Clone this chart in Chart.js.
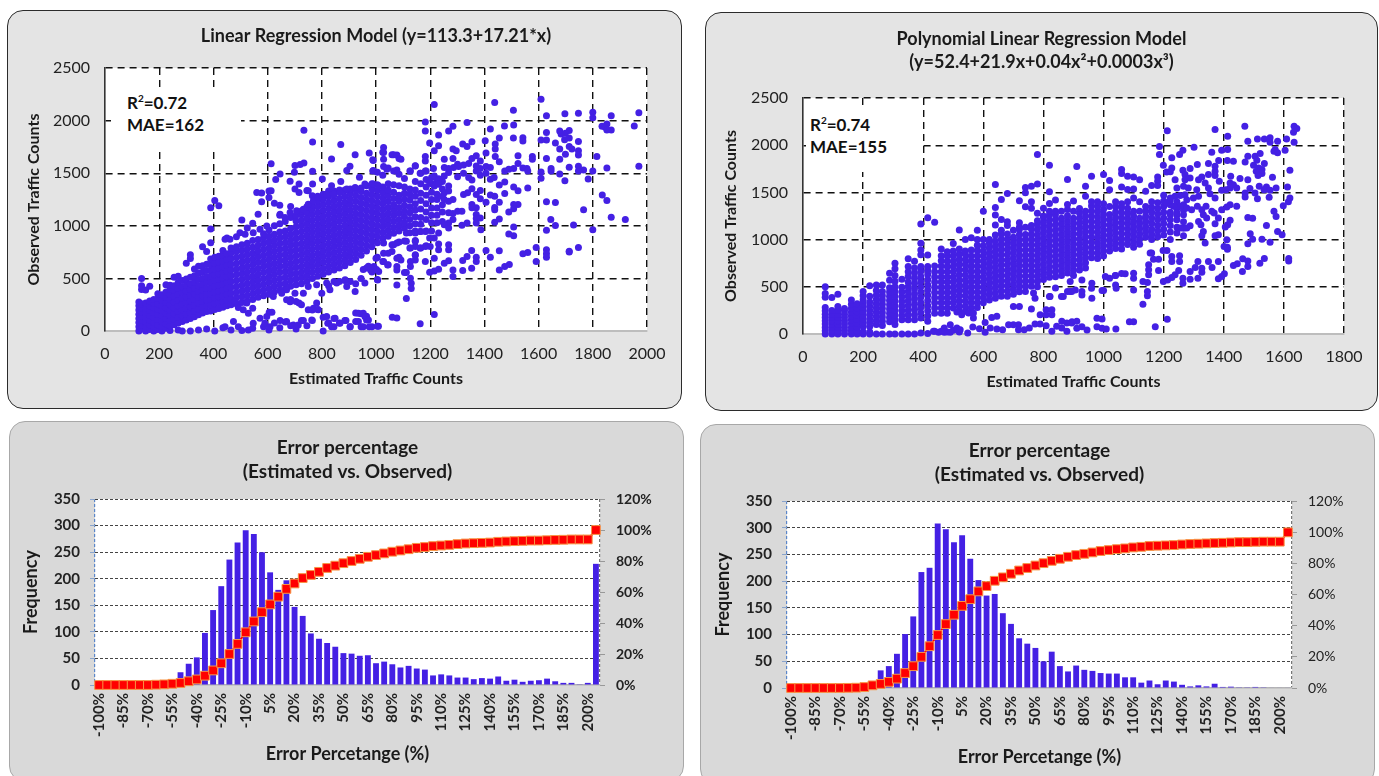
<!DOCTYPE html>
<html><head><meta charset="utf-8">
<script src="https://cdn.jsdelivr.net/npm/chart.js@4"></script>
<style>
html,body{margin:0;padding:0;background:#fff;width:1379px;height:776px;overflow:hidden;font-family:Lato,sans-serif}
.panel{position:absolute;box-sizing:border-box}
.top{background:#e4e4e4;border:1.5px solid #2b2b2b;border-radius:16px}
.bot{background:#d9d9d9;border:1px solid #a8a8a8;border-radius:16px}
canvas{position:absolute;display:block}
.note{position:absolute;background:#fff;font:bold 17px/22px Lato,sans-serif;color:#111;box-sizing:border-box}
.note sup{font-size:10px;line-height:0}
</style></head><body>
<div class="panel top" style="left:7px;top:10px;width:675px;height:399px"></div>
<div class="panel top" style="left:705px;top:12px;width:673px;height:399px"></div>
<div class="panel bot" style="left:9px;top:421px;width:675px;height:361px"></div>
<div class="panel bot" style="left:700px;top:424px;width:675px;height:361px"></div>
<canvas id="a" width="675" height="399" style="left:7px;top:10px"></canvas>
<canvas id="b" width="673" height="399" style="left:705px;top:12px"></canvas>
<canvas id="c" width="675" height="361" style="left:9px;top:421px"></canvas>
<canvas id="d" width="675" height="361" style="left:700px;top:424px"></canvas>
<div class="note" style="left:111px;top:88px;width:130px;height:59px;padding:4px 0 0 16px">R<sup>2</sup>=0.72<br>MAE=162</div>
<div class="note" style="left:806px;top:108px;width:116px;height:64px;padding:6px 0 0 4px">R<sup>2</sup>=0.74<br>MAE=155</div>
<script>
const binLabels=['-100%','-95%','-90%','-85%','-80%','-75%','-70%','-65%','-60%','-55%','-50%','-45%','-40%','-35%','-30%','-25%','-20%','-15%','-10%','-5%','0%','5%','10%','15%','20%','25%','30%','35%','40%','45%','50%','55%','60%','65%','70%','75%','80%','85%','90%','95%','100%','105%','110%','115%','120%','125%','130%','135%','140%','145%','150%','155%','160%','165%','170%','175%','180%','185%','190%','195%','200%','More'];
const freqLinear=[0,0,0,0,0,0,0,0,0,0,24,40,52,98,141,186,236,268,291,284,250,212,179,197,147,130,97,87,79,72,60,59,55,56,41,44,39,33,36,31,29,18,20,18,14,14,11,13,12,16,8,10,6,8,9,12,7,4,4,0.5,4,228];
const cumLinear=[0,0,0,0,0,0,0,0.2,0.4,0.8,1.3,2.4,3.6,6,9.4,14,20,26.5,34,41,47,52,57,62,65.5,69,71,73,75.5,77,78.6,80,81.4,82.7,83.8,84.9,86,86.8,87.6,88.5,89,89.6,90,90.4,90.9,91.3,91.5,91.7,91.9,92.4,92.6,92.8,93,93.2,93.2,93.4,93.6,93.7,93.9,93.9,93.9,100];
const freqPoly=[0,0,0,0,0,0,0,0,0,0,0,33,41,64,101,134,217,225,308,297,273,286,242,202,173,176,140,120,93,83,75,50,68,41,31,42,34,32,28,27,27,20,20,10,14,7,14,12,6,3,5,3,8,2,2.5,0.5,0.5,2,0.5,1,1,1];
const cumPoly=[0,0,0,0,0,0,0,0.1,0.2,0.6,1.7,2.6,3.9,6,9.6,14,20,26.8,34,41,47,52.7,57,62,65.4,68.8,71,73.3,75.4,77,78.6,80.1,81.6,82.9,84.2,85.3,86.1,87,87.9,88.5,89.1,89.6,90.2,90.6,91.1,91.3,91.5,91.7,92.1,92.4,92.6,92.8,93,93.2,93.4,93.6,93.6,93.8,93.9,93.9,93.9,99.9];

const linearColumns=[
[125,[0,40,80,120,160,200,240,275]],[135,[20,60,100,140,180,220,260,395,430,498]],[150,[0,40,85,130,175,220,265,390]],
[165,[15,60,105,150,195,240,285,425]],[180,[0,40,85,130,175,220,265,300]],[195,[15,60,110,160,210,260,310,355]],
[210,[0,45,95,145,195,245,295,345]],[225,[25,70,120,170,220,270,320,370,440]],[240,[5,50,100,150,200,250,300,350,400,435]],
[255,[60,110,165,220,275,330,385,430,510]],[270,[10,75,130,185,240,295,350,405,460,520]],[285,[0,90,145,200,255,310,365,420,480]],
[300,[105,160,215,270,325,380,435,495,645]],[315,[0,120,175,230,285,340,395,450,510,690,725]],[330,[135,190,245,300,355,410,465,525,590]],
[345,[10,155,210,265,320,375,430,490,550,615]],[360,[170,225,280,335,390,445,500,560,620,800]],[375,[20,185,240,295,350,405,460,515,575,635,755]],
[390,[190,245,300,355,410,465,520,575,630,685,840,970,1172]],[405,[0,205,260,315,370,425,480,535,590,645,700,1240]],[420,[215,270,325,380,435,490,545,600,655,710,1190]],
[435,[30,225,280,335,390,445,500,555,610,665,720,765]],[450,[240,295,350,405,460,515,570,625,680,735,885]],[465,[10,250,305,360,415,470,525,580,635,690,745,790]],
[485,[260,315,370,425,480,535,590,645,700,755,800,895]],[505,[5,270,325,380,435,490,545,600,655,710,765,820,1055]],[525,[285,340,395,450,505,560,615,670,725,780,835,980]],
[545,[25,300,355,410,465,520,575,630,685,740,795,860,1025]],[565,[320,375,430,485,540,595,650,705,760,815,870,1110]],[585,[40,335,390,445,500,555,610,665,720,775,830,885,925]],
[605,[10,350,405,460,515,570,625,680,735,790,845,900,960,1270,1330]],[625,[75,370,425,480,535,590,645,700,755,810,865,920,1000,1215]],[645,[30,390,445,500,555,610,665,720,775,830,885,940,1020,1100,1196]],
[665,[85,400,455,510,565,620,675,730,785,840,895,950,1040]],[685,[50,300,425,480,535,590,645,700,755,810,865,920,975,1080,1183]],[705,[20,280,440,495,550,605,660,715,770,825,880,935,990,1045,1100]],
[725,[100,250,450,505,560,615,670,725,780,835,890,945,1000,1055,1110,1140]],[745,[50,470,525,580,635,690,745,800,855,910,965,1020,1075,1130,1180,1335]],[765,[100,200,500,555,610,665,720,775,830,885,940,995,1050,1105,1160,1200,1285]],
[785,[205,520,575,630,685,740,795,850,905,960,1015,1070,1125,1180,1235,1280]],[805,[0,130,540,595,650,705,760,815,870,925,980,1035,1090,1145,1200,1255,1300]],[825,[75,430,560,615,670,725,780,835,890,945,1000,1055,1110,1165,1220,1275,1330]],
[845,[40,120,470,580,635,690,745,800,855,910,965,1020,1075,1130,1185,1240,1295,1330]],[865,[75,470,600,655,710,765,820,875,930,985,1040,1095,1150,1205,1260,1340]],[885,[100,480,620,675,730,785,840,895,950,1005,1060,1115,1170,1225,1280,1340]],
[905,[40,470,650,705,760,815,870,925,980,1035,1090,1145,1200,1255,1310,1350]],[925,[170,90,450,680,735,790,845,900,955,1010,1065,1120,1175,1230,1285,1340]],[945,[165,40,500,720,775,830,885,940,995,1050,1105,1160,1215,1270,1325,1360]],
[965,[105,140,600,760,815,870,925,980,1035,1090,1145,1200,1255,1310,1380]],[985,[40,560,800,855,910,965,1020,1075,1130,1185,1240,1295,1350,1400]],[1005,[45,490,700,840,895,950,1005,1060,1115,1170,1225,1280,1335,1390,1510]],
[1025,[660,880,935,990,1045,1100,1155,1210,1265,1320,1370,1480,1700]],[1045,[630,740,900,955,1010,1065,1120,1175,1230,1285,1340,1400,1550]],[1065,[820,930,985,1040,1095,1150,1200,1260,1320,1390,1520,1675]],
[1085,[700,845,950,1005,1060,1120,1175,1235,1290,1380,1490,1640]],[1105,[555,855,980,1030,1085,1140,1195,1255,1310,1370,1450]],[1125,[790,935,1000,1060,1125,1180,1245,1300,1350,1520]],
[1145,[720,860,950,1020,1085,1150,1210,1280,1340,1420,1570]],[1165,[790,945,1015,1080,1160,1240,1310,1400,1500]],[1185,[810,950,1060,1130,1210,1290,1370,1440,1520]],
[1205,[950,1030,1100,1170,1250,1320,1400,1460]],[1225,[1030,1100,1170,1250,1300,1430]],[1245,[1040,1130,1200,1280,1350,1420]]];
const linearLoose=[[1215,2153],[1438,2172],[1507,2099],[1609,2204],[1629,2045],[1697,2064],[1747,2070],[1800,2080],[1800,2026],[1868,2045],[1970,2074],[1182,1987],[1182,1901],[1231,1863],[1268,1901],[1284,1946],[1336,1981],[1422,1920],[1455,1834],[1474,1949],[1508,1959],[1507,1834],[1542,1837],[1542,1805],[1629,1888],[1629,1815],[1609,1815],[1662,1786],[1678,1901],[1683,1872],[1699,1879],[1713,1907],[1696,1818],[1713,1834],[1747,1802],[1678,1729],[1713,1754],[1723,1729],[1747,1713],[1747,1672],[1699,1681],[1678,1633],[1629,1640],[1577,1659],[1577,1633],[1524,1665],[1524,1592],[1815,1659],[1834,1946],[1852,1968],[1846,1936],[1868,1911],[1852,1911],[1953,1949],[1970,1566],[1852,1550],[1800,1522],[1766,1531],[1747,1566],[1747,1522],[1713,1557],[1646,1544],[1646,1522],[1609,1512],[1609,1451],[1678,1493],[1697,1429],[1783,1445],[1557,1544],[1542,1550],[1560,1522],[1508,1544],[1490,1538],[1475,1522],[1835,1292],[1852,1241],[1766,1152],[1629,1228],[1662,1222],[1560,1359],[1524,1333],[1508,1368],[1475,1308],[1475,1416],[1455,1388],[1438,1282],[1422,1292],[1406,1225],[1455,1225],[1438,1174],[1438,1152],[1524,1203],[1508,1203],[1508,1161],[1490,1132],[1455,1065],[1438,1034],[1868,1081],[1920,1059],[1645,1059],[1662,1002],[1729,1008],[1800,963],[1629,957],[1508,989],[1490,922],[1508,906],[1387,963],[1713,750],[1713,759],[1747,794],[1591,794],[1629,772],[1629,734],[1629,702],[1591,660],[1560,746],[1542,734],[1455,762],[1422,702],[1406,766],[1353,766],[1370,702],[1370,660],[1353,597],[1320,574],[1320,670],[1336,708],[1268,667],[1252,644],[1231,587],[1215,571],[1198,558],[1284,581],[1284,517],[1268,820],[1268,772],[1231,826],[1231,772],[1215,692],[1182,660],[1455,581],[1475,612],[1492,632],[1215,156],[1163,70],[1077,124],[1060,131],[1009,45],[1112,309],
[1403,1809],[1440,1777],[1440,1729],[1440,1659],[1406,1691],[1385,1617],[1455,1608],[1354,1799],[1336,1754],[1320,1777],[1284,1729],[1296,1713],[1231,1761],[1215,1713],[1198,1786],[1182,1659],[1182,1617],[1252,1633],[1284,1640],[1301,1585],[1354,1640],[1370,1665],[1212,1544],[1252,1553],[1268,1544],[1286,1553],[1305,1563],[1323,1579],[1342,1592],[1370,1522],[1385,1544],[1406,1563],[1422,1553],[1370,1569],[1252,1474],[1268,1506],[1301,1467],[1323,1499],[1342,1458],[1354,1435],[1385,1480],[1406,1499],[1422,1442],[1436,1458],[1215,1474],[1231,1448],[1198,1410],[1215,1378],[1231,1394],[1268,1378],[1252,1314],[1268,1330],[1284,1250],[1268,1234],[1252,1250],[1323,1298],[1338,1314],[1354,1352],[1370,1298],[1385,1336],[1385,1257],[1354,1203],[1370,1171],[1354,1171],[1317,1139],[1301,1139],[1284,1117],[1268,1123],[1284,1059],[1268,1027],[1252,1011],[1268,979],[1317,1005],[1336,1027],[1370,1107],[1370,1069],[1370,1027],[1385,1075],[1231,931],[1215,884],[1198,884],[1200,804],[1182,804],[1163,788],[1145,804],[1127,788],[1145,852],[1112,852],[1145,931],[1163,947],[1182,947],[1112,931],[1077,836],[1059,820],[1028,836],[1145,724],[1145,676],[1127,660],[1127,612],[1112,555],[1127,501],[1130,453],[1130,405],[1077,581],[1077,612],[1077,437],[1043,628],[1092,676],[1077,692],[1059,756],[1028,740],[1000,692],[980,580],[1006,485],[992,612],[1010,565],[1028,660],[1028,1745],[1028,1697],[1028,1633],[1059,1675],[1077,1672],[1092,1633],[988,1627],[1028,1563],[1040,1538],[988,1522],[1077,1531],[1127,1522],[1145,1569],[1163,1499],[1182,1522],[766,1796],[734,1908],[870,1774],[836,1636],[892,1525],[904,1566],[923,1675],[975,1691],[990,1620],[990,1525],[939,1461],[870,1420],[836,1381],[818,1301],[701,1573],[720,1582],[734,1598],[699,1509],[701,1349],[716,1397],[716,1317],[683,1423],[630,1439],[646,1493],[613,1589],[613,1333],[560,1317],[578,1311],[578,1228],[766,1518],[766,1397],[750,1333],[802,1445],[670,297],[683,278],[716,265],[781,265],[769,217],[750,201],[787,201],[606,179],[616,179],[597,137],[545,217],[529,169],[510,201],[492,223],[523,265],[480,281],[572,121],[474,90],[443,41],[492,41],[529,10],[547,73],[590,73],[609,41],[646,99],[670,90],[695,57],[713,57],[732,99],[763,105],[818,137],[822,73],[836,41],[849,121],[867,73],[889,99],[904,41],[935,169],[953,169],[959,137],[972,105],[935,90],[953,41],[975,41],
[443,871],[461,871],[498,935],[517,919],[547,935],[572,967],[597,998],[646,1110],[664,1078],[683,1126],[707,1142],[732,1158],[750,1206],[769,1238],[787,1270],[843,1301],[867,1317],[892,1349],[923,1365],[959,1397],[990,1397],[1009,1381],[732,360],[750,424],[781,440],[800,360],[830,392],[855,456],[892,424],[923,376],[959,456],[886,488],[818,456],[670,392],[701,360],[621,329],[652,360],[953,584],[972,616],[1002,584]];

const polyColumns=[
[74,[0,35,70,105,140,175,210,245,280,390,430,500]],[96,[0,35,70,105,140,175,210,250,387]],[116,[0,35,70,105,140,175,210,250,290,420]],
[138,[0,35,70,105,140,175,210,245,270]],[161,[0,35,70,110,150,190,230,270,315,360]],[180,[0,35,75,115,155,195,235,275,320]],
[200,[0,25,80,120,160,200,240,280,320,360,405,450]],[222,[0,20,80,120,160,205,250,295,340,400,510]],[244,[0,100,140,185,230,275,320,365,410,460,520]],
[264,[0,90,135,180,225,270,315,360,405,450,520]],[288,[0,130,175,220,265,310,355,400,445,490,570,644]],[306,[0,100,150,200,250,300,350,400,450,500,560,620,690,750]],
[329,[0,150,195,245,295,345,395,445,495,580]],[350,[0,150,200,250,300,350,400,450,500,550,610,660,715,796]],[371,[0,150,205,260,315,370,425,480,535,590,645,700,770]],
[392,[10,170,225,280,335,390,445,500,555,610,665,715,840,890,961,1165]],[415,[5,134,190,245,300,355,410,465,520,575,630,675,715,838,1232]],[438,[30,220,275,330,385,440,495,550,605,660,720,1183]],
[460,[30,220,275,330,385,440,495,550,605,660,720,775,830,900]],[480,[20,220,275,330,385,440,495,550,605,660,715,770,825,870]],[500,[40,275,330,385,440,495,550,605,660,715,770,825,880,960]],
[520,[20,240,295,350,405,460,515,570,625,680,735,790,845,900,1102]],[540,[240,295,350,405,460,515,570,625,680,735,790,845,880,1000]],[560,[275,330,385,440,495,550,605,660,715,770,825,890,1020]],
[580,[280,335,390,445,500,555,610,665,720,775,830,885,940,1000,1100]],[600,[330,385,440,495,550,605,660,715,770,825,880,935,1000,1300]],[620,[360,415,470,525,580,635,690,745,800,855,910,965,1000]],
[640,[380,435,490,545,600,655,710,765,820,875,930,985,1050,1155,1260,1341,1584]],[660,[400,455,510,565,620,675,730,785,840,895,950,1005,1060,1100,1214,1426]],[680,[400,455,510,565,620,675,730,785,840,895,950,1005,1060,1150,1190,1489]],
[700,[292,420,475,530,585,640,695,750,805,860,915,970,1025,1100]],[720,[292,447,502,557,612,667,722,777,832,887,942,997,1052,1107,1130,1179,1412]],[740,[450,505,560,615,670,725,780,835,890,945,1000,1055,1130,1348,1496,1552]],
[760,[264,507,562,617,672,727,782,837,892,947,1002,1057,1112,1150,1331,1401,1566]],[780,[500,555,610,665,720,775,830,885,940,995,1050,1105,1160,1200,1278,1588,1901]],[800,[577,632,687,742,797,852,907,962,1017,1072,1127,1182,1237,1250,1331]],
[820,[398,600,655,710,765,820,875,930,985,1040,1095,1150,1205,1260,1300,1383,1507,1788]],[840,[486,607,662,717,772,827,882,937,992,1047,1102,1157,1212,1267,1300,1419]],[860,[398,620,675,730,785,840,895,950,1005,1060,1115,1170,1225,1300]],
[880,[451,647,702,757,812,867,922,977,1032,1087,1142,1197,1252,1320,1373,1637]],[900,[620,675,730,785,840,895,950,1005,1060,1115,1170,1225,1300,1408]],[920,[677,732,787,842,897,952,1007,1062,1117,1172,1227,1282,1330]],
[940,[700,755,810,865,920,975,1030,1085,1140,1195,1250,1300,1460,1565]],[960,[485,807,862,917,972,1027,1082,1137,1192,1247,1302,1357,1400,1671]],[980,[800,855,910,965,1020,1075,1130,1185,1240,1295,1350,1400]],
[1000,[460,827,882,937,992,1047,1102,1157,1212,1267,1322,1380,1689]],[1020,[590,880,935,990,1045,1100,1155,1210,1265,1350,1529,1625]],[1040,[520,620,907,962,1017,1072,1127,1182,1237,1292,1347,1400]],
[1060,[640,900,955,1010,1065,1120,1175,1230,1285,1340,1380,1558,1699,1742]],[1080,[947,1002,1057,1112,1167,1222,1277,1332,1400,1530,1671]],[1100,[467,591,644,920,975,1030,1085,1140,1195,1250,1300,1440,1536,1664]],
[1120,[950,1005,1060,1115,1170,1225,1300,1400,1635]],[1140,[1027,1082,1137,1192,1247,1302,1350,1512]],[1160,[857,1000,1055,1110,1170,1230,1290,1340,1400,1572]],[1180,[1030,1090,1150,1210,1270,1330,1390,1664,1618,1572]],
[1200,[1050,1110,1170,1230,1290,1350,1410,1470]],[1222,[1000,1080,1150,1210,1290,1370,1420]],[1244,[1070,1130,1210,1260,1330,1400]],[1266,[1040,1120,1190,1310,1370]]];
const polyLoose=[[1212,2152],[1371,2166],[1470,2202],[1413,2096],[1634,2202],[1643,2177],[1632,2138],[1480,2043],[1512,2067],[1535,2067],[1554,2078],[1554,2032],[1579,2043],[1609,2067],[1634,2032],[1571,1954],[1579,1919],[1604,1947],[1567,1936],[1186,1986],[1186,1901],[1264,1947],[1253,1901],[1227,1866],[1301,1979],[1360,1926],[1393,1947],[1413,1954],[1383,1837],[1412,1837],[1432,1830],[1349,1805],[1312,1795],[1288,1752],[1264,1735],[1227,1759],[1222,1720],[1210,1717],[1199,1788],[911,1774],[1471,1823],[1480,1883],[1504,1883],[1521,1912],[1510,1841],[1535,1805],[1499,1788],[1516,1759],[1527,1742],[1508,1724],[1527,1699],[1514,1678],[1620,1735],[1562,1660],[1480,1635],[1454,1646],[1423,1671],[1421,1600],[1371,1777],[1371,1724],[1371,1678],[1349,1689],[1385,1618],[1612,1558],[1574,1547],[1542,1558],[1518,1565],[1534,1529],[1554,1522],[1487,1540],[1443,1547],[1432,1582],[1421,1547],[1408,1529],[1393,1522],[1471,1494],[1471,1451],[1504,1494],[1512,1434],[1551,1448],[1620,1441],[1615,1402],[1598,1359],[1443,1352],[1421,1370],[1410,1345],[1393,1317],[1382,1228],[1368,1281],[1360,1299],[1341,1352],[1327,1317],[1312,1352],[1343,1228],[1332,1264],[1480,1235],[1496,1225],[1567,1299],[1574,1246],[1542,1150],[1421,1204],[1413,1158],[1405,1133],[1371,1168],[1316,1193],[1324,1158],[1288,1147],[1277,1122],[1255,1122],[1332,1087],[1327,1041],[1382,1051],[1371,1041],[1488,1062],[1496,1005],[1527,1005],[1554,973],[1480,956],[1579,1087],[1594,1051],[1338,963],[1410,998],[1412,920],[1401,927],[1412,899],[1616,800],[1616,772],[1535,800],[1520,750],[1463,796],[1480,772],[1480,715],[1462,662],[1445,743],[1432,726],[1382,768],[1349,768],[1314,768],[1327,697],[1327,655],[1361,704],[1305,704],[1288,662],[1402,637],[1393,609],[1382,584],[1314,591],[1288,581],[1264,591],[1264,538],[1250,673],[1238,627],[1227,598],[1213,573],[1199,556],[1253,828],[1253,768],[1227,821],[1227,768],[1211,885],[1198,885],[1166,793],[1183,793],[1183,673],[1155,857],[1150,733],[1150,680],[1150,627],[1131,556],[1146,545],[1146,450],[1146,404],[1131,315],[1072,637],[1039,620],[1042,485],[961,379],[928,414],[1212,156],[1172,78],[1100,131],[1086,131],[1041,53],[1009,53],[995,159],[978,166],[978,78],[995,60],[945,42],[928,78],[911,60],[895,131],[1238,1635],[1271,1689],[1271,1635],[1288,1653],[1266,1565],[1282,1547],[1244,1547],[1316,1635],[1327,1664],[1338,1600],[1349,1547],[1310,1529],[1271,1476],[1255,1466],[1238,1458],[1222,1441],[1299,1441],[1316,1458],[1354,1487],[1371,1441],[1277,1423],[1210,1388],[1255,1352],[1233,1352],[1277,1335],[1222,1264],[1244,1281],[1266,1264],[1293,1317],[1006,609],[889,450],[906,467],[928,450],[995,460],[889,556],[928,573],[961,538],[767,433],[772,380],[822,398],[866,398],[894,451],[434,28],[451,18],[470,63],[490,99],[470,18],[490,18],[512,63],[523,46],[548,10],[565,74],[587,56],[606,18],[623,63],[645,53],[664,46],[684,99],[700,99],[717,99],[717,46],[736,46],[753,63],[772,106],[789,106],[809,88],[828,28],[844,81],[861,134],[861,63],[878,116],[878,28],[894,116],[911,134],[567,169],[551,222],[567,222],[512,232],[528,204],[606,123],[628,176],[645,187],[789,204],[809,257],[828,257],[809,204],[828,204]];

const ink='#222';
const blue='#4420e4';
const whitePlot={id:'whitePlot',beforeDraw(ch){const a=ch.chartArea;ch.ctx.save();ch.ctx.fillStyle='#fff';ch.ctx.fillRect(a.left,a.top,a.right-a.left,a.bottom-a.top);ch.ctx.restore();}};
const toPoints=(cols,loose)=>cols.flatMap(([x,ys])=>ys.map(y=>({x,y}))).concat(loose.map(([x,y])=>({x,y})));
const fit=(prop,n)=>s=>{s[prop]=n;};

function scatter(id,pts,xMax,layout){
  new Chart(document.getElementById(id),{type:'scatter',plugins:[whitePlot],
    data:{datasets:[{data:pts,backgroundColor:blue,borderWidth:0,pointRadius:3.5,clip:false}]},
    options:{responsive:false,animation:false,events:[],layout:{padding:0},
      plugins:{legend:{display:false},tooltip:{enabled:false},
        title:{display:true,fullSize:layout.wide,text:layout.title,color:'#1a1a1a',font:{family:'Lato',size:18,weight:'bold',lineHeight:layout.lh+'px'},padding:{top:layout.tp,bottom:layout.tb}}},
      scales:{
        x:{type:'linear',min:0,max:xMax,afterFit:fit('height',layout.below),
          ticks:{stepSize:200,color:ink,font:{family:'Lato',size:16},padding:13,maxRotation:0,callback:v=>String(v)},
          grid:{drawTicks:false,lineWidth:1.4,color:c=>c.tick&&c.tick.value===0?'transparent':'#111'},
          border:{dash:[7,5],color:'#bdbdbd',width:2},
          title:{display:true,text:'Estimated Traffic Counts',color:'#1a1a1a',font:{family:'Lato',size:16,weight:'bold',lineHeight:'20px'},padding:{top:0,bottom:layout.xt}}},
        y:{min:0,max:2500,afterFit:fit('width',layout.left),
          ticks:{stepSize:500,color:ink,font:{family:'Lato',size:16},padding:15,callback:v=>String(v)},
          grid:{drawTicks:false,lineWidth:1.4,color:c=>c.tick&&c.tick.value===0?'transparent':'#111'},
          border:{dash:[7,5],color:'#333',width:1.6},
          title:{display:true,text:'Observed Traffic Counts',color:'#1a1a1a',font:{family:'Lato',size:16,weight:'bold',lineHeight:'20px'},padding:{top:layout.yt,bottom:0}}},
        gutter:{position:'right',afterFit:fit('width',layout.right),ticks:{display:false},grid:{display:false},border:{display:false}}
      }}});
}
scatter('a',toPoints(linearColumns,linearLoose),2000,{title:'Linear Regression Model (y=113.3+17.21*x)',wide:false,lh:20,tp:16,tb:22,left:98,right:35,below:78,xt:20,yt:17});
scatter('b',toPoints(polyColumns,polyLoose),1800,{title:['Polynomial Linear Regression Model','(y=52.4+21.9x+0.04x²+0.0003x³)'],wide:true,lh:23,tp:16,tb:24,left:98,right:34,below:77,xt:19,yt:16});

function histogram(id,freq,cum,layout){
  new Chart(document.getElementById(id),{type:'bar',plugins:[whitePlot],
    data:{labels:binLabels,datasets:[
      {type:'line',data:cum,yAxisID:'y1',order:1,clip:false,tension:0,borderColor:'#ff0000',borderWidth:2,pointStyle:'rect',pointRadius:6.2,pointBackgroundColor:'#ff0000',pointBorderColor:'#f79646',pointBorderWidth:1},
      {data:freq,yAxisID:'y',order:2,backgroundColor:blue,barPercentage:0.72,categoryPercentage:1}]},
    options:{responsive:false,animation:false,events:[],layout:{padding:{right:0,top:0,bottom:0,left:0}},
      plugins:{legend:{display:false},tooltip:{enabled:false},
        title:{display:true,fullSize:false,text:['Error percentage','(Estimated vs. Observed)'],color:'#1a1a1a',font:{family:'Lato',size:19,weight:'bold',lineHeight:'24px'},padding:{top:15,bottom:layout.tb}}},
      scales:{
        x:{afterFit:fit('height',97),
          ticks:{autoSkip:false,minRotation:90,maxRotation:90,color:ink,font:{family:'Lato',size:15,weight:'bold'},padding:8,callback(v,i){return i%3===0&&i<61?binLabels[i]:'';}},
          grid:{drawTicks:false,lineWidth:1.2,color:c=>c.tick===undefined?'#777':(c.index===0?'#5b86c9':'transparent')},
          border:{dash:[3,2],color:'#b5b5b5',width:1.5},
          title:{display:true,text:'Error Percetange (%)',color:'#1a1a1a',font:{family:'Lato',size:18,weight:'bold',lineHeight:'20px'},padding:{top:0,bottom:18}}},
        y:{min:0,max:350,afterFit:fit('width',layout.left),
          ticks:{stepSize:50,color:ink,font:{family:'Lato',size:15,weight:'bold'},padding:10},
          grid:{tickLength:5,tickColor:'#8aa4cc',lineWidth:1,color:c=>c.tick&&c.tick.value===0?'transparent':'#444'},
          border:{display:false,dash:[3,2]},
          title:{display:true,text:'Frequency',color:'#1a1a1a',font:{family:'Lato',size:18,weight:'bold',lineHeight:'20px'},padding:{top:layout.yt,bottom:0}}},
        y1:{position:'right',min:0,max:120,afterFit:fit('width',layout.right),
          ticks:{stepSize:20,color:ink,font:{family:'Lato',size:14,weight:layout.rw},padding:11,callback:v=>v+'%'},
          grid:{drawOnChartArea:false,tickLength:5,tickColor:'#999'},
          border:{display:false}}
      }}});
}
histogram('c',freqLinear,cumLinear,{left:86,right:84,tb:15,yt:12,rw:'bold'});
histogram('d',freqPoly,cumPoly,{left:87,right:83,tb:14,yt:13,rw:'normal'});
</script>
</body></html>
